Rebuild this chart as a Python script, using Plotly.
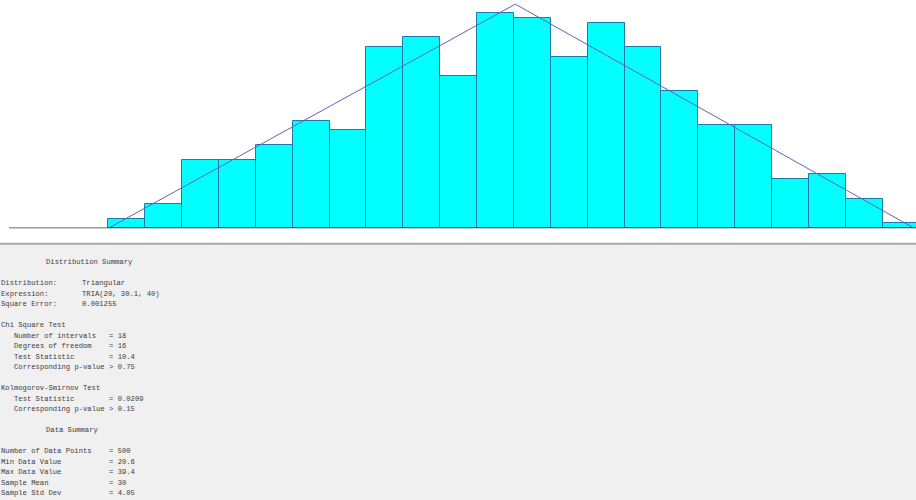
import plotly.graph_objects as go

# ---------------- data ----------------
bin_start = 20.0
bin_width = 0.915
counts = [2, 5, 14, 14, 17, 22, 20, 37, 39, 31, 44, 43, 35, 42, 37, 28, 21, 21, 10, 11, 6, 1]
tri_min, tri_mode, tri_max = 20.0, 30.1, 40.0
n_points = 500

summary_rows = [
    # (row, kind, label, value)
    (0, "title", "Distribution Summary", ""),
    (2, "plain", "Distribution:", "Triangular"),
    (3, "plain", "Expression:", "TRIA(20, 30.1, 40)"),
    (4, "plain", "Square Error:", "0.001255"),
    (6, "plain", "Chi Square Test", ""),
    (7, "indent", "Number of intervals", "= 18"),
    (8, "indent", "Degrees of freedom", "= 16"),
    (9, "indent", "Test Statistic", "= 10.4"),
    (10, "indent", "Corresponding p-value", "> 0.75"),
    (12, "plain", "Kolmogorov-Smirnov Test", ""),
    (13, "indent", "Test Statistic", "= 0.0209"),
    (14, "indent", "Corresponding p-value", "> 0.15"),
    (16, "title", "Data Summary", ""),
    (18, "plain", "Number of Data Points", "= 500"),
    (19, "plain", "Min Data Value", "= 20.6"),
    (20, "plain", "Max Data Value", "= 39.4"),
    (21, "plain", "Sample Mean", "= 30"),
    (22, "plain", "Sample Std Dev", "= 4.05"),
]

# ---------------- derived ----------------
centers = [bin_start + (i + 0.5) * bin_width for i in range(len(counts))]
peak = n_points * bin_width * 2.0 / (tri_max - tri_min)
tri_x = [tri_min, tri_mode, tri_max]
tri_y = [0, peak, 0]

W, H = 916, 500
px_per_unit = 40.3
x_left = bin_start - 108.3 / px_per_unit
x_right = x_left + W / px_per_unit
base_px = 228.3
px_per_count = 4.9

fig = go.Figure()
fig.add_trace(go.Bar(
    x=centers, y=counts, width=bin_width,
    marker=dict(color="#00ffff", line=dict(color="#1f7aa8", width=1)),
    hoverinfo="skip",
))
fig.add_trace(go.Scatter(
    x=tri_x, y=tri_y, mode="lines",
    line=dict(color="#6860b4", width=1),
    hoverinfo="skip",
))

shapes = [
    dict(type="rect", xref="paper", yref="paper", x0=0, x1=1,
         y0=1 - 243 / H, y1=1, fillcolor="white", line=dict(width=0), layer="below"),
    dict(type="line", xref="paper", yref="paper", x0=0, x1=1,
         y0=1 - 243.8 / H, y1=1 - 243.8 / H, line=dict(color="#a9a9a9", width=2)),
    dict(type="line", xref="paper", yref="y", x0=9 / W, x1=1, y0=0, y1=0,
         line=dict(color="#383838", width=1.8), layer="above"),
]

annotations = []
font = dict(family="Courier New, Liberation Mono, monospace", size=7.2, color="#3c3c3c")
x_pos = {"title": 44, "plain": -1, "indent": 12}
for row, kind, label, value in summary_rows:
    ypx = 262 + 10.5 * row
    annotations.append(dict(
        text=label, x=x_pos[kind] / W, y=1 - ypx / H, xref="paper", yref="paper",
        xanchor="left", yanchor="middle", showarrow=False, font=font))
    if value:
        vx = 80 if row < 6 else 107
        annotations.append(dict(
            text=value, x=vx / W, y=1 - ypx / H, xref="paper", yref="paper",
            xanchor="left", yanchor="middle", showarrow=False, font=font))

fig.update_layout(
    width=W, height=H,
    margin=dict(l=0, r=0, t=0, b=0),
    paper_bgcolor="#f0f0f0",
    plot_bgcolor="rgba(0,0,0,0)",
    showlegend=False,
    bargap=0,
    shapes=shapes,
    annotations=annotations,
    xaxis=dict(range=[x_left, x_right], domain=[0, 1], visible=False, fixedrange=True),
    yaxis=dict(range=[0, base_px / px_per_count], domain=[1 - base_px / H, 1],
               visible=False, fixedrange=True),
)

fig.write_html("out.html")
